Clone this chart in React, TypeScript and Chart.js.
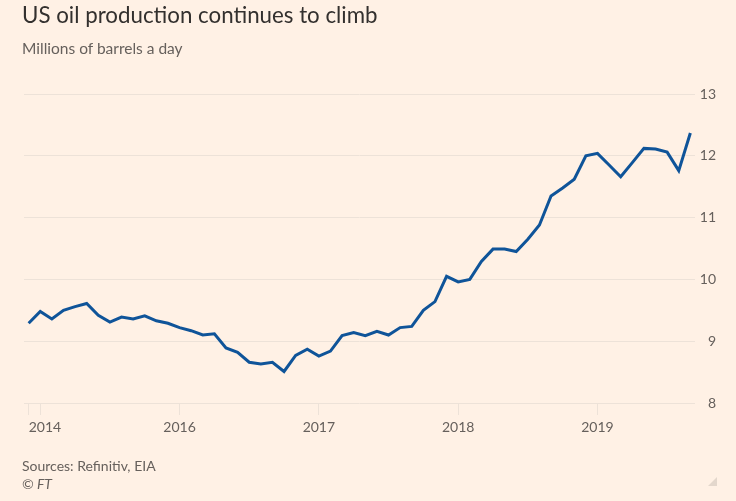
import React, { useEffect, useRef } from "react";
import { Chart, registerables } from "chart.js";

Chart.register(...registerables);

// Monthly US crude production, Dec 2014 – Sep 2019 (millions of barrels a day)
const months = [
  "2014-12",
  "2015-01", "2015-02", "2015-03", "2015-04", "2015-05", "2015-06", "2015-07", "2015-08", "2015-09", "2015-10", "2015-11", "2015-12",
  "2016-01", "2016-02", "2016-03", "2016-04", "2016-05", "2016-06", "2016-07", "2016-08", "2016-09", "2016-10", "2016-11", "2016-12",
  "2017-01", "2017-02", "2017-03", "2017-04", "2017-05", "2017-06", "2017-07", "2017-08", "2017-09", "2017-10", "2017-11", "2017-12",
  "2018-01", "2018-02", "2018-03", "2018-04", "2018-05", "2018-06", "2018-07", "2018-08", "2018-09", "2018-10", "2018-11", "2018-12",
  "2019-01", "2019-02", "2019-03", "2019-04", "2019-05", "2019-06", "2019-07", "2019-08", "2019-09",
];

const production = [
  9.29,
  9.48, 9.36, 9.50, 9.56, 9.61, 9.42, 9.31, 9.39, 9.36, 9.41, 9.33, 9.29,
  9.22, 9.17, 9.10, 9.12, 8.89, 8.82, 8.66, 8.63, 8.66, 8.51, 8.77, 8.87,
  8.76, 8.84, 9.09, 9.14, 9.09, 9.16, 9.10, 9.22, 9.24, 9.50, 9.64, 10.05,
  9.96, 10.00, 10.29, 10.49, 10.49, 10.45, 10.65, 10.88, 11.35, 11.48, 11.62, 12.00,
  12.04, 11.85, 11.66, 11.89, 12.12, 12.11, 12.06, 11.76, 12.37,
];

// x tick positions (month index) and their labels
const xTickIndex = [0, 1, 13, 25, 37, 49];
const xTickLabels = ["2014", "", "2016", "2017", "2018", "2019"];

const yTicks = [8, 9, 10, 11, 12, 13];

const BG = "#FFF1E5";
const TEXT = "#66605C";
const GRID = "#EDE2D8";
const FONT = "Lato, 'Noto Sans', sans-serif";

export default function App() {
  const ref = useRef<HTMLCanvasElement | null>(null);

  useEffect(() => {
    if (!ref.current) return;
    const lastIdx = months.length - 1;
    const chart = new Chart(ref.current, {
      type: "line",
      data: {
        datasets: [
          {
            data: production.map((v, i) => ({ x: i, y: v })),
            borderColor: "#0F5499",
            borderWidth: 3,
            pointRadius: 0,
            tension: 0,
            fill: false,
          },
        ],
      },
      options: {
        animation: false,
        responsive: false,
        devicePixelRatio: 1,
        layout: { padding: { left: 24, right: 20, top: 94, bottom: 58 } },
        plugins: {
          legend: { display: false },
          tooltip: { enabled: false },
        },
        scales: {
          x: {
            type: "linear",
            min: -0.4,
            max: lastIdx + 0.4,
            afterBuildTicks: (scale: any) => {
              scale.ticks = [...xTickIndex, lastIdx].map((v) => ({ value: v }));
            },
            afterFit: (scale: any) => {
              scale.height = 40;
            },
            border: { display: false },
            grid: {
              drawOnChartArea: false,
              drawTicks: true,
              tickLength: 12,
              tickColor: (ctx: any) =>
                ctx.tick && ctx.tick.value === lastIdx ? "rgba(0,0,0,0)" : GRID,
              lineWidth: 1,
            },
            ticks: {
              autoSkip: false,
              maxRotation: 0,
              align: "inner",
              padding: 4,
              color: TEXT,
              font: { family: FONT, size: 14 },
              callback: (value: any) => {
                const k = xTickIndex.indexOf(Number(value));
                return k >= 0 ? xTickLabels[k] : "";
              },
            },
          },
          y: {
            position: "right",
            min: 8,
            max: 13,
            afterBuildTicks: (scale: any) => {
              scale.ticks = yTicks.map((v) => ({ value: v }));
            },
            afterFit: (scale: any) => {
              scale.width = 21;
            },
            border: { display: false },
            grid: {
              color: GRID,
              lineWidth: 1,
              drawTicks: false,
            },
            ticks: {
              crossAlign: "far",
              padding: 4,
              color: TEXT,
              font: { family: FONT, size: 14 },
            },
          },
        },
      },
    });
    return () => chart.destroy();
  }, []);

  return (
    <div
      style={{
        position: "fixed",
        left: 0,
        top: 0,
        width: 736,
        height: 501,
        background: BG,
        overflow: "hidden",
        fontFamily: FONT,
      }}
    >
      <canvas
        ref={ref}
        width={736}
        height={501}
        style={{ position: "absolute", left: 0, top: 0, width: 736, height: 501 }}
      />
      <div
        style={{
          position: "absolute",
          left: 22,
          top: 2,
          fontSize: 22.3,
          lineHeight: "26px",
          color: "#33302E",
          whiteSpace: "nowrap",
        }}
      >
        US oil production continues to climb
      </div>
      <div
        style={{
          position: "absolute",
          left: 22,
          top: 39,
          fontSize: 15.5,
          lineHeight: "18px",
          color: TEXT,
          whiteSpace: "nowrap",
        }}
      >
        Millions of barrels a day
      </div>
      <div
        style={{
          position: "absolute",
          left: 22,
          top: 457,
          fontSize: 14,
          lineHeight: "18px",
          color: TEXT,
          whiteSpace: "nowrap",
        }}
      >
        Sources: Refinitiv, EIA
        <br />
        <span style={{ fontStyle: "italic" }}>© FT</span>
      </div>
      <div
        style={{
          position: "absolute",
          left: 708,
          top: 477,
          width: 0,
          height: 0,
          borderLeft: "9px solid transparent",
          borderBottom: "9px solid #E3D7CC",
        }}
      />
    </div>
  );
}
